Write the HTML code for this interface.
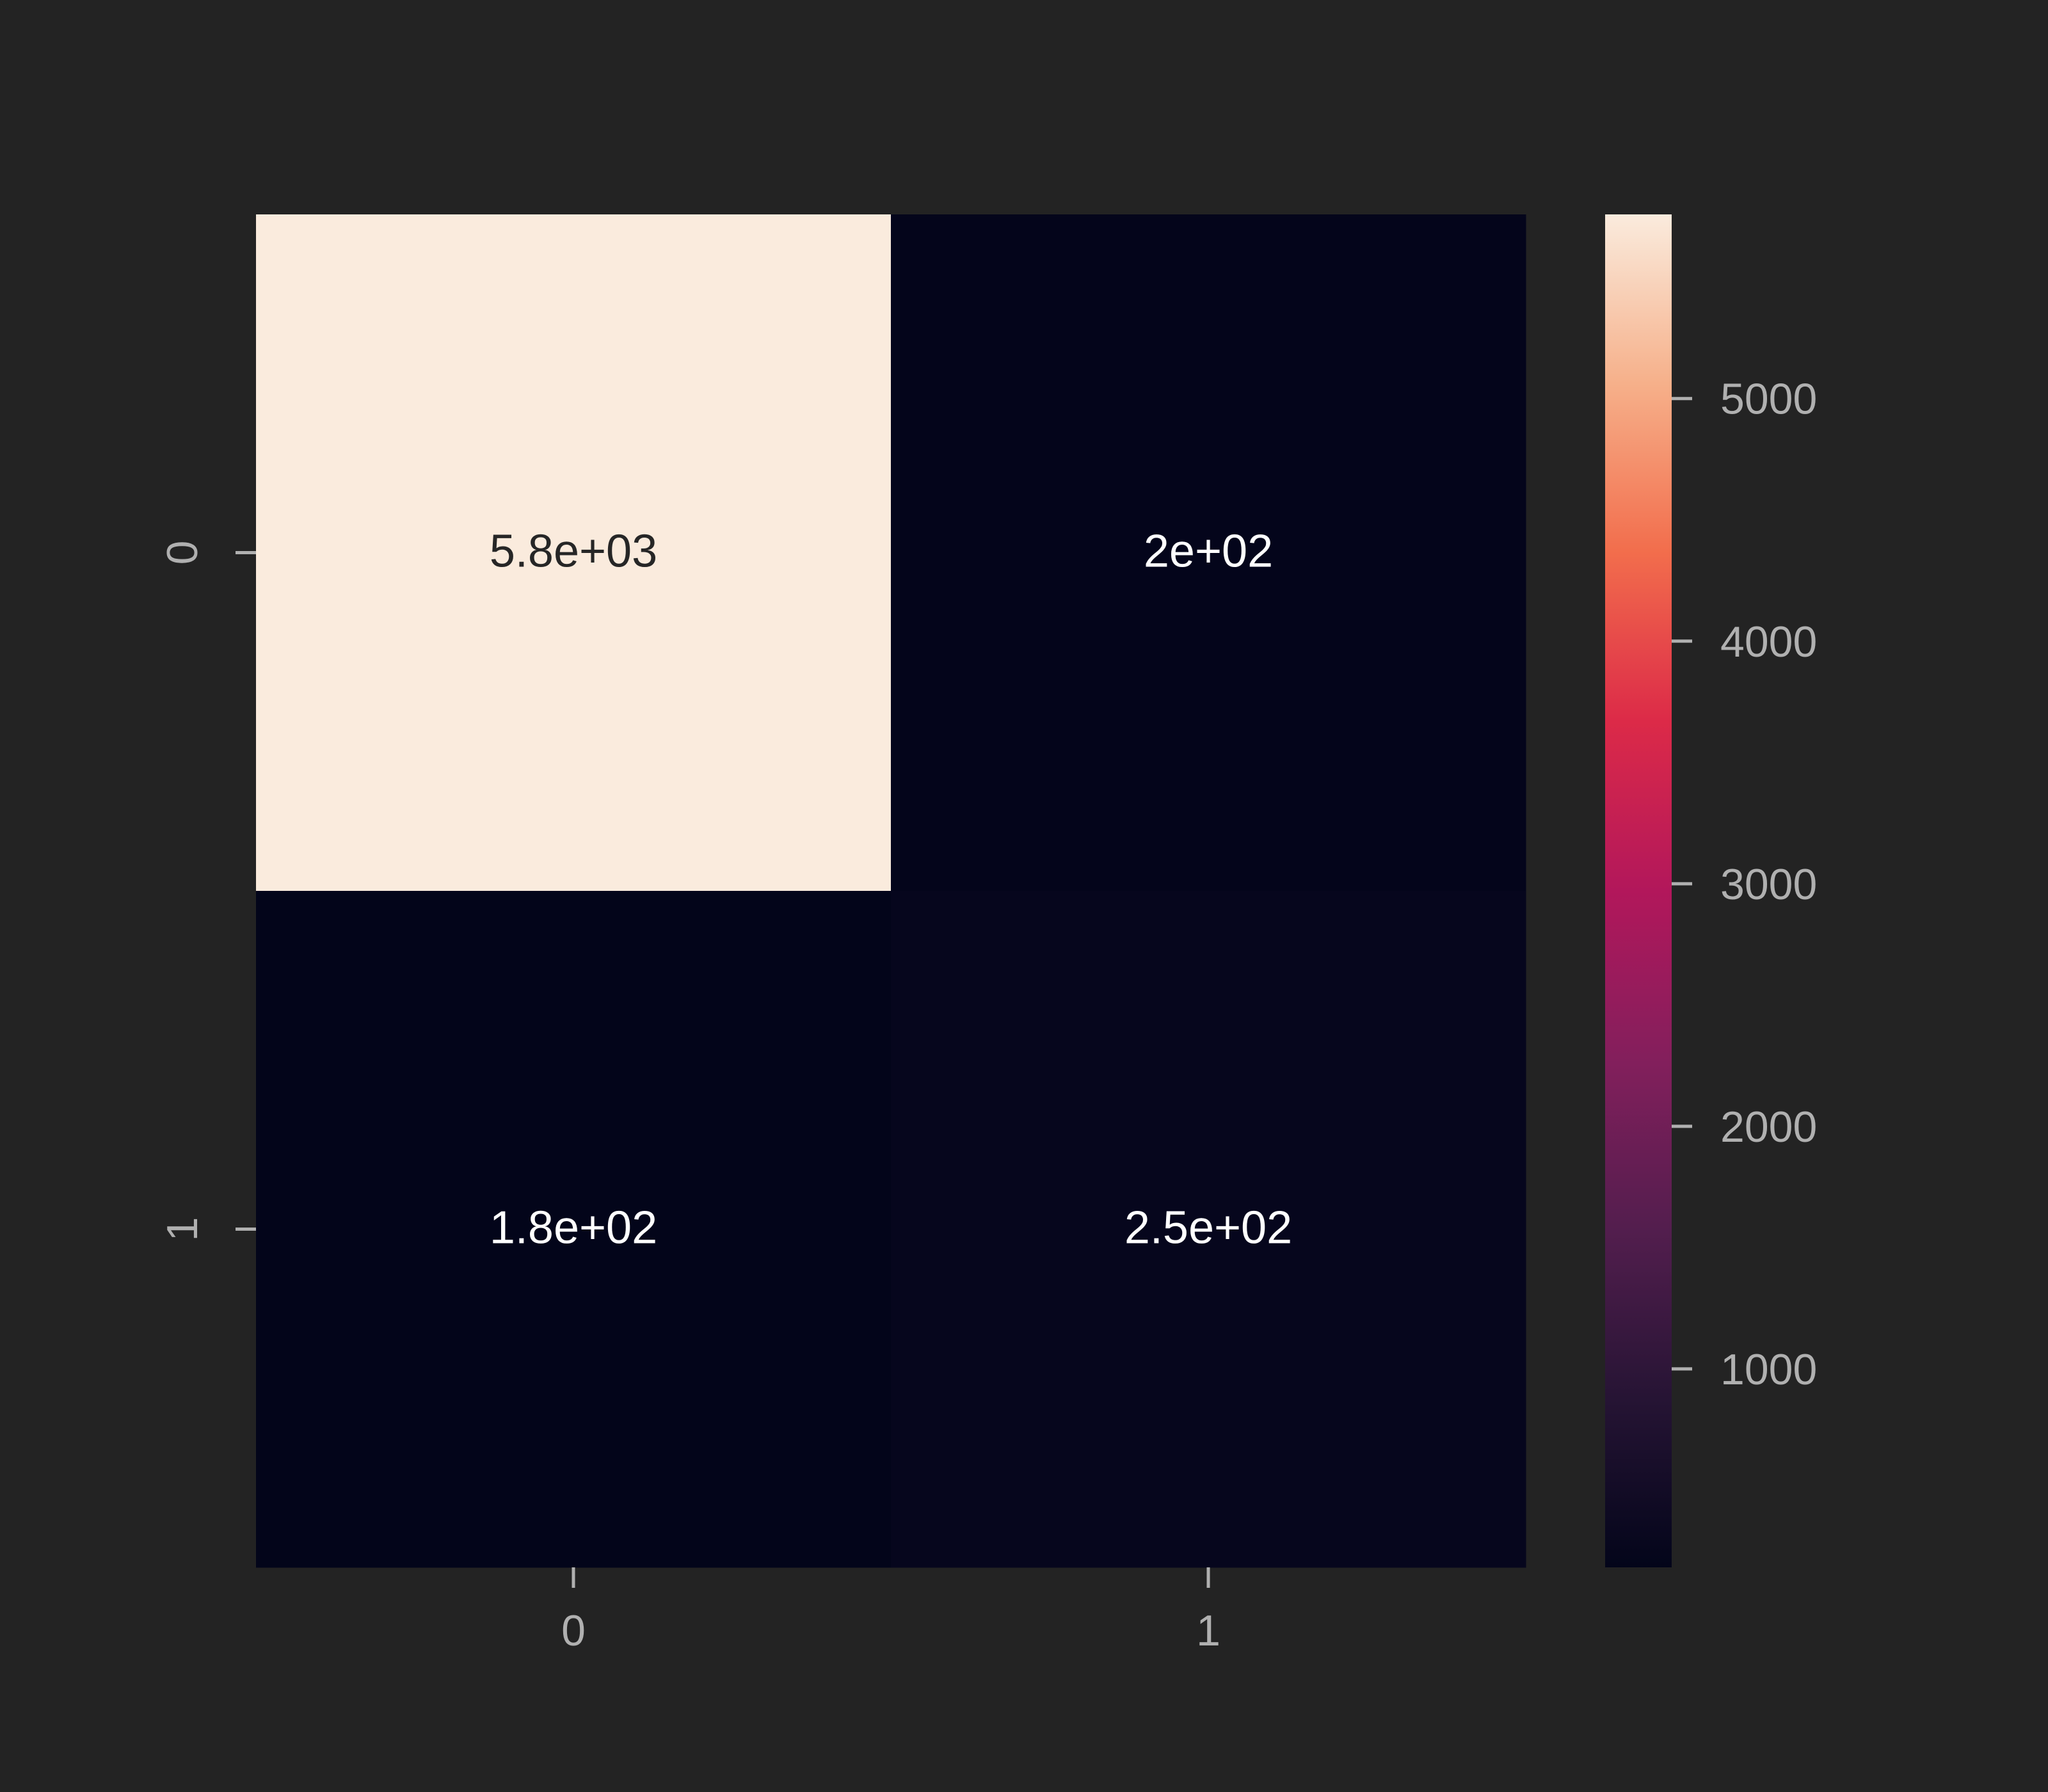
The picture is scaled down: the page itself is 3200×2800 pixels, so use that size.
<!DOCTYPE html>
<html><head><meta charset="utf-8"><style>
html,body{margin:0;padding:0;background:#232323;}
svg{display:block;font-family:"Liberation Sans",Arial,sans-serif;}
</style></head><body>
<svg id="chart" width="3200" height="2800" viewBox="0 0 3200 2800">
<rect width="3200" height="2800" fill="#232323"/>
<defs>
<linearGradient id="rocket" x1="0" y1="1" x2="0" y2="0">
<stop offset="0" stop-color="#03051a"/><stop offset="0.125" stop-color="#261434"/>
<stop offset="0.25" stop-color="#531e4e"/><stop offset="0.375" stop-color="#831f5c"/>
<stop offset="0.5" stop-color="#b2175b"/><stop offset="0.625" stop-color="#dc2a48"/>
<stop offset="0.75" stop-color="#f26d4c"/><stop offset="0.875" stop-color="#f6b08a"/>
<stop offset="1" stop-color="#faebdd"/>
</linearGradient>
</defs>
<g id="plot"></g>
</svg>
<script>
const rowLabels = ["0","1"];
const colLabels = ["0","1"];
const values = [[5759, 200],[182, 250]];
const annotations = [["5.8e+03","2e+02"],["1.8e+02","2.5e+02"]];
const cbarTicks = [1000,2000,3000,4000,5000];
const vmin = 182, vmax = 5759;

const L=400,R=2384,T=335,B=2449, CBL=2508, CBR=2612;
const stops=[[0,"#03051a"],[0.125,"#261434"],[0.25,"#531e4e"],[0.375,"#831f5c"],[0.5,"#b2175b"],[0.625,"#dc2a48"],[0.75,"#f26d4c"],[0.875,"#f6b08a"],[1,"#faebdd"]];
function hex(h){return [1,3,5].map(i=>parseInt(h.substr(i,2),16));}
function cmap(v){let t=Math.max(0,Math.min(1,(v-vmin)/(vmax-vmin)));
 for(let i=1;i<stops.length;i++){if(t<=stops[i][0]){const a=hex(stops[i-1][1]),b=hex(stops[i][1]);const f=(t-stops[i-1][0])/(stops[i][0]-stops[i-1][0]);return "rgb("+a.map((x,k)=>Math.round(x+(b[k]-x)*f)).join(",")+")";}}
 return stops[stops.length-1][1];}
const ns="http://www.w3.org/2000/svg", g=document.getElementById("plot");
function mk(tag,attrs){const e=document.createElementNS(ns,tag);for(const k in attrs)e.setAttribute(k,attrs[k]);g.appendChild(e);return e;}
const cw=(R-L)/colLabels.length, ch=(B-T)/rowLabels.length;
const xPos=j=>L+cw*(j+0.5), yPos=i=>T+ch*(i+0.5);
const cbY=v=>B-(v-vmin)/(vmax-vmin)*(B-T);
for(let i=0;i<rowLabels.length;i++)for(let j=0;j<colLabels.length;j++){
 const r=mk("rect",{x:L+cw*j,y:T+ch*i,width:cw+0.5,height:ch+0.5,fill:cmap(values[i][j])});
 
 
 const t=mk("text",{x:xPos(j),y:yPos(i)+22,"text-anchor":"middle","font-size":72,fill:(values[i][j]>(vmin+vmax)/2)?"#262626":"#ffffff"});
 t.textContent=annotations[i][j];
 
 
}
colLabels.forEach((l,j)=>{
 const tk=mk("line",{x1:xPos(j),x2:xPos(j),y1:B,y2:B+32,stroke:"#b0b0b0","stroke-width":5});
 
 
 const t=mk("text",{x:xPos(j),y:B+122,"text-anchor":"middle","font-size":68,fill:"#b0b0b0"});
 t.textContent=l;
 
 
});
rowLabels.forEach((l,i)=>{
 const tk=mk("line",{x1:L-32,x2:L,y1:yPos(i),y2:yPos(i),stroke:"#b0b0b0","stroke-width":5});
 
 
 const x=L-92,y=yPos(i);
 const t=mk("text",{x:x,y:y,"text-anchor":"middle","font-size":68,fill:"#b0b0b0",transform:"rotate(-90 "+x+" "+y+")"});
 t.textContent=l;
 
 
});
const cb=mk("rect",{x:CBL,y:T,width:CBR-CBL,height:B-T,fill:"url(#rocket)"});


cbarTicks.forEach(v=>{
 const y=cbY(v);
 const tk=mk("line",{x1:CBR,x2:CBR+32,y1:y,y2:y,stroke:"#b0b0b0","stroke-width":5});
 
 
 const t=mk("text",{x:CBR+76,y:y+24,"font-size":68,fill:"#b0b0b0"});
 t.textContent=String(v);
 
 
});
</script>
</body></html>
